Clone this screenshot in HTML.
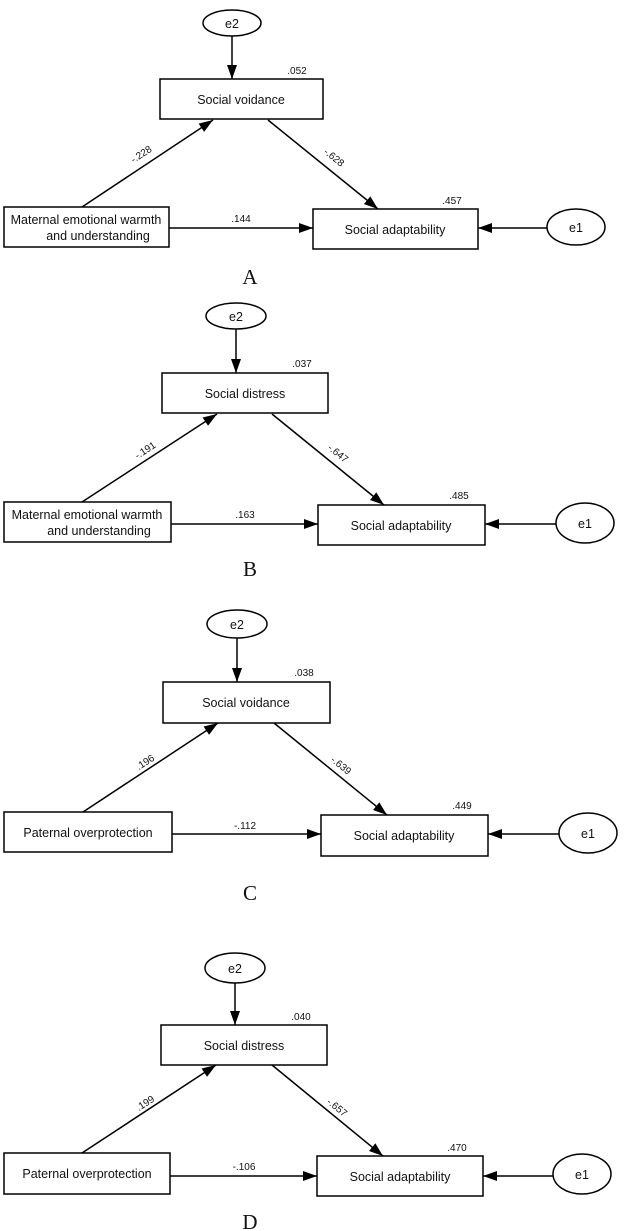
<!DOCTYPE html>
<html><head><meta charset="utf-8"><style>
html,body{margin:0;padding:0;background:#fff}
svg{display:block}
text{font-family:"Liberation Sans",Arial,sans-serif;fill:#111}
.b{font-size:12.5px}
.n{font-size:10px}
.L{font-family:"Liberation Serif",serif;font-size:21px}
</style></head><body>
<svg width="624" height="1231" viewBox="0 0 624 1231" xmlns="http://www.w3.org/2000/svg">
<defs><marker id="a" markerWidth="14" markerHeight="10" refX="14" refY="5" orient="auto" markerUnits="userSpaceOnUse"><path d="M0,0 L14,5 L0,10 z" fill="#000"/></marker></defs>
<g stroke="#000" stroke-width="1.5" fill="none">
<!-- A -->
<ellipse cx="232" cy="23" rx="29" ry="13"/>
<line x1="232" y1="36" x2="232" y2="79" marker-end="url(#a)"/>
<rect x="160" y="79" width="163" height="40" fill="#fff"/>
<rect x="313" y="209" width="165" height="40"/>
<rect x="4" y="207" width="165" height="40"/>
<ellipse cx="576" cy="227" rx="29" ry="18"/>
<line x1="82" y1="207" x2="213" y2="120" marker-end="url(#a)"/>
<line x1="268" y1="120" x2="378" y2="209" marker-end="url(#a)"/>
<line x1="169" y1="228" x2="313" y2="228" marker-end="url(#a)"/>
<line x1="547" y1="228" x2="478" y2="228" marker-end="url(#a)"/>
<!-- B -->
<ellipse cx="236" cy="316" rx="30" ry="13"/>
<line x1="236" y1="329" x2="236" y2="373" marker-end="url(#a)"/>
<rect x="162" y="373" width="166" height="40"/>
<rect x="318" y="505" width="167" height="40"/>
<rect x="4" y="502" width="167" height="40"/>
<ellipse cx="585" cy="523" rx="29" ry="20"/>
<line x1="82" y1="502" x2="217" y2="414" marker-end="url(#a)"/>
<line x1="272" y1="414" x2="384" y2="505" marker-end="url(#a)"/>
<line x1="171" y1="524" x2="318" y2="524" marker-end="url(#a)"/>
<line x1="556" y1="524" x2="485" y2="524" marker-end="url(#a)"/>
<!-- C -->
<ellipse cx="237" cy="624" rx="30" ry="14"/>
<line x1="237" y1="638" x2="237" y2="682" marker-end="url(#a)"/>
<rect x="163" y="682" width="167" height="41"/>
<rect x="321" y="815" width="167" height="41"/>
<rect x="4" y="812" width="168" height="40"/>
<ellipse cx="588" cy="833" rx="29" ry="20"/>
<line x1="83" y1="812" x2="218" y2="723" marker-end="url(#a)"/>
<line x1="274" y1="723" x2="387" y2="815" marker-end="url(#a)"/>
<line x1="172" y1="834" x2="321" y2="834" marker-end="url(#a)"/>
<line x1="559" y1="834" x2="488" y2="834" marker-end="url(#a)"/>
<!-- D -->
<ellipse cx="235" cy="968" rx="30" ry="15"/>
<line x1="235" y1="983" x2="235" y2="1025" marker-end="url(#a)"/>
<rect x="161" y="1025" width="166" height="40"/>
<rect x="317" y="1156" width="166" height="40"/>
<rect x="4" y="1153" width="166" height="41"/>
<ellipse cx="582" cy="1174" rx="29" ry="20"/>
<line x1="82" y1="1153" x2="216" y2="1065" marker-end="url(#a)"/>
<line x1="272" y1="1065" x2="383" y2="1156" marker-end="url(#a)"/>
<line x1="170" y1="1176" x2="317" y2="1176" marker-end="url(#a)"/>
<line x1="553" y1="1176" x2="483" y2="1176" marker-end="url(#a)"/>
</g>
<g text-anchor="middle">
<!-- A -->
<text class="b" x="232" y="28">e2</text>
<text class="b" x="241" y="104">Social voidance</text>
<text class="b" x="395" y="234">Social adaptability</text>
<text class="b" x="86" y="224">Maternal emotional warmth</text>
<text class="b" x="98" y="240">and understanding</text>
<text class="b" x="576" y="232">e1</text>
<text class="n" x="297" y="74">.052</text>
<text class="n" x="452" y="204">.457</text>
<text class="n" x="241" y="222">.144</text>
<text class="n" transform="translate(143,157) rotate(-33)">-.228</text>
<text class="n" transform="translate(332,160) rotate(39)">-.628</text>
<text class="L" x="250" y="284">A</text>
<!-- B -->
<text class="b" x="236" y="321">e2</text>
<text class="b" x="245" y="398">Social distress</text>
<text class="b" x="401" y="530">Social adaptability</text>
<text class="b" x="87" y="519">Maternal emotional warmth</text>
<text class="b" x="99" y="535">and understanding</text>
<text class="b" x="585" y="528">e1</text>
<text class="n" x="302" y="367">.037</text>
<text class="n" x="459" y="499">.485</text>
<text class="n" x="245" y="518">.163</text>
<text class="n" transform="translate(147,453) rotate(-33)">-.191</text>
<text class="n" transform="translate(336,456) rotate(39)">-.647</text>
<text class="L" x="250" y="576">B</text>
<!-- C -->
<text class="b" x="237" y="629">e2</text>
<text class="b" x="246" y="707">Social voidance</text>
<text class="b" x="404" y="840">Social adaptability</text>
<text class="b" x="88" y="837">Paternal overprotection</text>
<text class="b" x="588" y="838">e1</text>
<text class="n" x="304" y="676">.038</text>
<text class="n" x="462" y="809">.449</text>
<text class="n" x="245" y="829">-.112</text>
<text class="n" transform="translate(147,765) rotate(-33)">.196</text>
<text class="n" transform="translate(339,768) rotate(39)">-.639</text>
<text class="L" x="250" y="900">C</text>
<!-- D -->
<text class="b" x="235" y="973">e2</text>
<text class="b" x="244" y="1050">Social distress</text>
<text class="b" x="400" y="1181">Social adaptability</text>
<text class="b" x="87" y="1178">Paternal overprotection</text>
<text class="b" x="582" y="1179">e1</text>
<text class="n" x="301" y="1020">.040</text>
<text class="n" x="457" y="1151">.470</text>
<text class="n" x="244" y="1170">-.106</text>
<text class="n" transform="translate(147,1106) rotate(-33)">.199</text>
<text class="n" transform="translate(335,1110) rotate(39)">-.657</text>
<text class="L" x="250" y="1229">D</text>
</g>
</svg>
</body></html>
